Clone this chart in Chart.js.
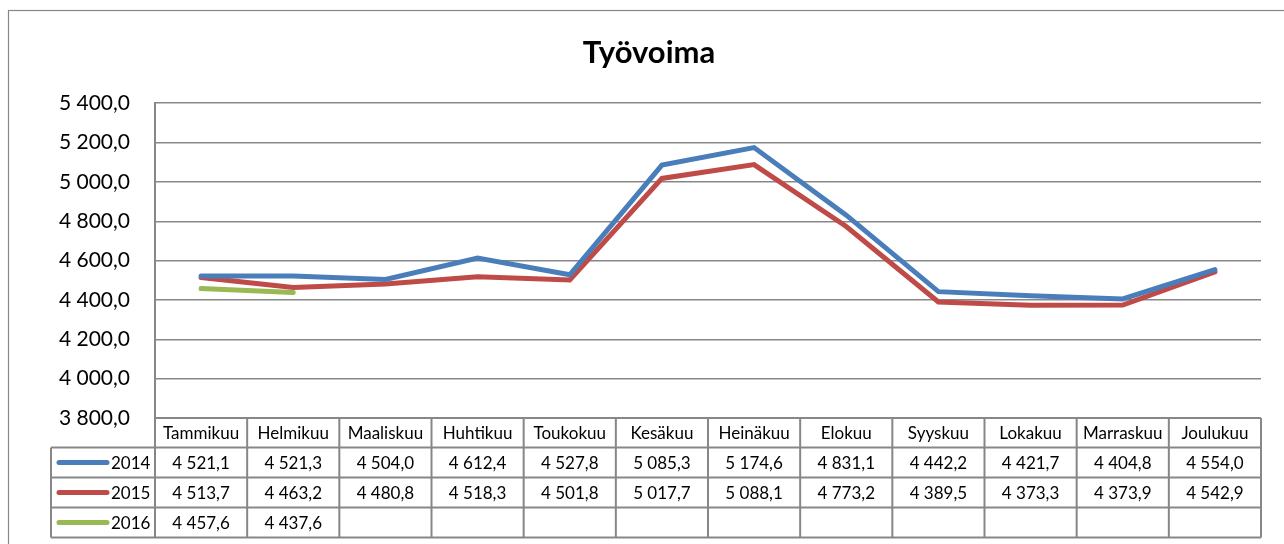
<!DOCTYPE html>
<html>
<head>
<meta charset="utf-8">
<script src="https://cdn.jsdelivr.net/npm/chart.js@4/dist/chart.umd.min.js"></script>
<style>
  html, body { margin: 0; padding: 0; background: #fff; }
  #wrap { width: 1284px; height: 544px; position: relative; }
</style>
</head>
<body>
<div id="wrap"><canvas id="chart" width="1284" height="544"></canvas></div>
<script>
const months = ["Tammikuu", "Helmikuu", "Maaliskuu", "Huhtikuu", "Toukokuu", "Kesäkuu",
  "Heinäkuu", "Elokuu", "Syyskuu", "Lokakuu", "Marraskuu", "Joulukuu"];
const years = ["2014", "2015", "2016"];
const v2014 = [4521.1, 4521.3, 4504.0, 4612.4, 4527.8, 5085.3, 5174.6, 4831.1, 4442.2, 4421.7, 4404.8, 4554.0];
const v2015 = [4513.7, 4463.2, 4480.8, 4518.3, 4501.8, 5017.7, 5088.1, 4773.2, 4389.5, 4373.3, 4373.9, 4542.9];
const v2016 = [4457.6, 4437.6];
const colors = ["#4A7EBB", "#BE4B48", "#98B954"];
const yMin = 3800, yMax = 5400, yStep = 200;

const FONT = "Lato, 'Open Sans', sans-serif";
const GRID = "#878787";

// suomalainen numeromuoto: "4 521,1"
function fmt(v) {
  const parts = v.toFixed(1).split(".");
  return parts[0].replace(/\B(?=(\d{3})+(?!\d))/g, " ") + "," + parts[1];
}

// kehys + datataulukko
const tablePlugin = {
  id: "dataTable",
  beforeDraw(chart) {
    const ctx = chart.ctx;
    ctx.save();
    ctx.strokeStyle = GRID;
    ctx.lineWidth = 1.2;
    ctx.strokeRect(8.5, 10.5, 1400, 700);
    ctx.restore();
  },
  afterDraw(chart) {
    const ctx = chart.ctx;
    const x = chart.scales.x;
    const area = chart.chartArea;
    const step = x.getPixelForValue(1) - x.getPixelForValue(0);
    const left = area.left, right = area.right;
    const legLeft = 51;
    const rowTops = [area.bottom, 447.5, 477.5, 507.5, 537.5];
    const series = [v2014, v2015, v2016];

    ctx.save();
    ctx.strokeStyle = GRID;
    ctx.lineWidth = 2;
    ctx.beginPath();
    // vaakaviivat
    ctx.moveTo(left, rowTops[0]); ctx.lineTo(right, rowTops[0]);
    for (let r = 1; r < rowTops.length; r++) {
      ctx.moveTo(legLeft, rowTops[r]); ctx.lineTo(right, rowTops[r]);
    }
    // pystyviivat
    ctx.moveTo(legLeft, rowTops[1]); ctx.lineTo(legLeft, rowTops[4]);
    for (let i = 0; i <= months.length; i++) {
      const px = x.getPixelForValue(i) - step / 2;
      ctx.moveTo(px, rowTops[0]); ctx.lineTo(px, rowTops[4]);
    }
    ctx.stroke();

    ctx.fillStyle = "#000";
    ctx.font = "17px " + FONT;
    ctx.textAlign = "center";
    ctx.textBaseline = "middle";
    months.forEach((m, i) => {
      ctx.fillText(m, x.getPixelForValue(i), (rowTops[0] + rowTops[1]) / 2 + 1);
    });
    series.forEach((vals, r) => {
      const cy = (rowTops[r + 1] + rowTops[r + 2]) / 2 + 1;
      vals.forEach((v, i) => {
        ctx.fillText(fmt(v), x.getPixelForValue(i), cy);
      });
      // selite
      ctx.strokeStyle = colors[r];
      ctx.lineWidth = 5;
      ctx.lineCap = "round";
      ctx.beginPath();
      ctx.moveTo(59, cy - 1); ctx.lineTo(107, cy - 1);
      ctx.stroke();
      ctx.textAlign = "left";
      ctx.fillText(years[r], 111, cy);
      ctx.textAlign = "center";
    });
    ctx.restore();
  }
};

new Chart(document.getElementById("chart"), {
  type: "line",
  data: {
    labels: months,
    datasets: [
      { label: years[0], data: v2014, borderColor: colors[0] },
      { label: years[1], data: v2015, borderColor: colors[1] },
      { label: years[2], data: v2016, borderColor: colors[2] }
    ].map(d => Object.assign(d, { borderWidth: 5, pointRadius: 0, tension: 0, fill: false, borderCapStyle: "round" }))
  },
  options: {
    responsive: false,
    animation: false,
    layout: { padding: { left: 37, right: 23, top: 0, bottom: 126 } },
    plugins: {
      legend: { display: false },
      tooltip: { enabled: false },
      title: {
        display: true,
        text: "Työvoima",
        color: "#000",
        font: { family: FONT, size: 31, weight: "bold" },
        padding: { top: 34, bottom: 32 }
      }
    },
    scales: {
      x: { display: false, offset: true },
      y: {
        min: yMin, max: yMax,
        afterFit: s => { s.width = 118; },
        ticks: {
          stepSize: yStep,
          padding: 25,
          color: "#000",
          font: { family: FONT, size: 21 },
          callback: v => fmt(v)
        },
        grid: { color: GRID, lineWidth: 1.5, drawTicks: false },
        border: { color: GRID, width: 2 }
      }
    }
  },
  plugins: [tablePlugin]
});
</script>
</body>
</html>
